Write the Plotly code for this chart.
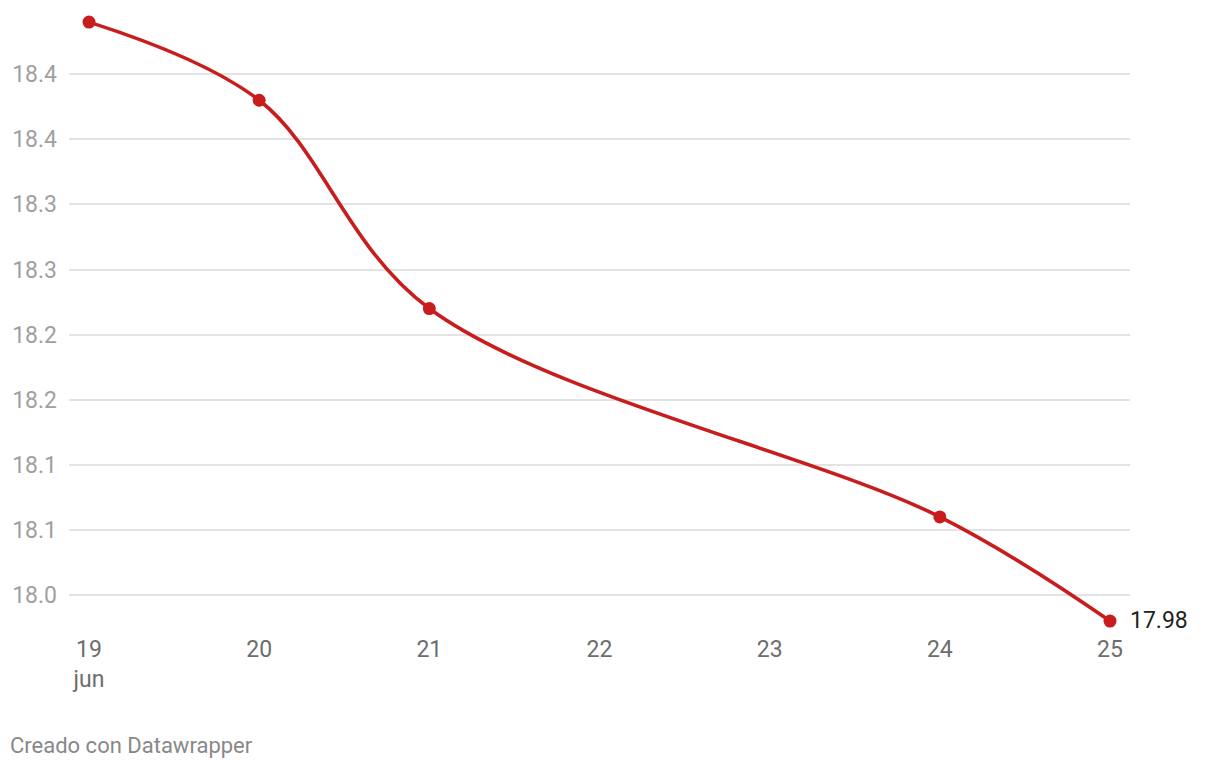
import plotly.graph_objects as go

# Data
days = [19, 20, 21, 24, 25]
values = [18.44, 18.38, 18.22, 18.06, 17.98]

x_tick_vals = [19, 20, 21, 22, 23, 24, 25]
x_tick_text = ["19<br>jun", "20", "21", "22", "23", "24", "25"]

y_tick_vals = [18.0, 18.05, 18.1, 18.15, 18.2, 18.25, 18.3, 18.35, 18.4]
y_tick_text = ["18.0", "18.1", "18.1", "18.2", "18.2", "18.3", "18.3", "18.4", "18.4"]

last_label = "17.98"
credit = "Creado con Datawrapper"

RED = "#c71e1d"
FONT = "Roboto"

W, H = 1220, 768
L, R, T, B = 69, 90, 10, 138

fig = go.Figure()
fig.add_trace(go.Scatter(
    x=days, y=values,
    mode="lines+markers",
    line=dict(color=RED, width=3.6, shape="spline", smoothing=1.0),
    marker=dict(color=RED, size=13),
    cliponaxis=False,
    hoverinfo="skip",
    showlegend=False,
))

fig.add_annotation(
    x=days[-1], y=values[-1], text=last_label,
    xref="x", yref="y", xanchor="left", yanchor="middle",
    xshift=18, yshift=1, showarrow=False,
    font=dict(family=FONT, size=23, color="#222222"),
)

fig.add_annotation(
    x=(8 - L) / (W - L - R), y=(H - B - 745) / (H - T - B),
    xref="paper", yref="paper", text=credit,
    showarrow=False, xanchor="left", yanchor="middle",
    font=dict(family=FONT, size=22, color="#888888"),
)

fig.update_layout(
    width=W, height=H,
    margin=dict(l=L, r=R, t=T, b=B),
    paper_bgcolor="white", plot_bgcolor="white",
    font=dict(family=FONT),
    xaxis=dict(
        range=[19 - 20 / 170.17, 25 + 20 / 170.17],
        tickvals=x_tick_vals, ticktext=x_tick_text,
        showgrid=False, zeroline=False, showline=False,
        ticks="", ticklabelstandoff=3,
        tickfont=dict(family=FONT, size=23, color="#6d6d6d"),
    ),
    yaxis=dict(
        range=[18.0 - 35 / 1302, 18.0 + 585 / 1302],
        tickvals=y_tick_vals, ticktext=y_tick_text,
        showgrid=True, gridcolor="#e3e3e3", gridwidth=1.5,
        zeroline=False, showline=False, ticks="",
        ticklabelstandoff=11,
        tickfont=dict(family=FONT, size=23, color="#a0a0a0"),
    ),
)

fig.write_html(
    "out.html",
    config={"displayModeBar": False},
    post_script="document.body.style.margin='0';document.body.style.padding='0';",
)
